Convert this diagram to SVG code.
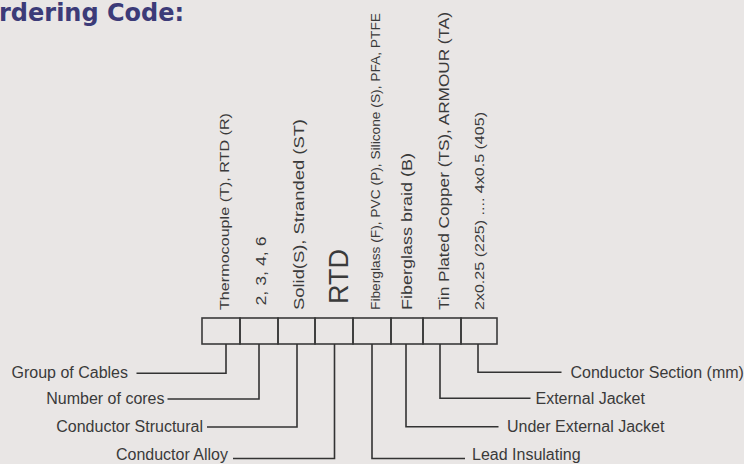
<svg xmlns="http://www.w3.org/2000/svg" width="744" height="464" viewBox="0 0 744 464">
  <style>
    .bg { fill: #e9e6e5; }
    .title { font-family: "DejaVu Sans", Verdana, sans-serif; font-weight: bold; font-size: 24px; fill: #3c3b78; }
    .lbl { font-family: "Liberation Sans", Arial, sans-serif; font-size: 16px; fill: #3a3a3a; }
    .opt { font-family: "Liberation Sans", Arial, sans-serif; fill: #3a3a3a; }
    .cell { fill: none; stroke: #3a3a3a; stroke-width: 1.6; }
    .conn { fill: none; stroke: #333333; stroke-width: 1.6; }
  </style>
  <rect class="bg" x="0" y="0" width="744" height="464"/>

  <g id="title">
    <text class="title" x="-1" y="20.5">rdering Code:</text>
  </g>

  <g id="code-boxes">
    <rect class="cell" x="202" y="318" width="38" height="26"/>
    <rect class="cell" x="240" y="318" width="38" height="26"/>
    <rect class="cell" x="278" y="318" width="37" height="26"/>
    <rect class="cell" x="315" y="318" width="38" height="26"/>
    <rect class="cell" x="353" y="318" width="38" height="26"/>
    <rect class="cell" x="391" y="318" width="32" height="26"/>
    <rect class="cell" x="423" y="318" width="38" height="26"/>
    <rect class="cell" x="461" y="318" width="36" height="26"/>
  </g>

  <g id="opt-group">
    <text class="opt" font-size="13" textLength="197" lengthAdjust="spacingAndGlyphs" transform="translate(228.5,310) rotate(-90)">Thermocouple (T), RTD (R)</text>
  </g>
  <g id="opt-cores">
    <text class="opt" font-size="15.5" textLength="69" lengthAdjust="spacingAndGlyphs" transform="translate(265.5,305.5) rotate(-90)">2, 3, 4, 6</text>
  </g>
  <g id="opt-structural">
    <text class="opt" font-size="15.5" textLength="191" lengthAdjust="spacingAndGlyphs" transform="translate(303.5,310) rotate(-90)">Solid(S), Stranded (ST)</text>
  </g>
  <g id="opt-alloy">
    <text class="opt" font-size="27" textLength="55" lengthAdjust="spacingAndGlyphs" transform="translate(347.5,304) rotate(-90)">RTD</text>
  </g>
  <g id="opt-insulating">
    <text class="opt" font-size="12.5" textLength="297" lengthAdjust="spacingAndGlyphs" transform="translate(379.5,310) rotate(-90)">Fiberglass (F), PVC (P), Silicone (S), PFA, PTFE</text>
  </g>
  <g id="opt-under-jacket">
    <text class="opt" font-size="15.5" textLength="157" lengthAdjust="spacingAndGlyphs" transform="translate(411.5,310) rotate(-90)">Fiberglass braid (B)</text>
  </g>
  <g id="opt-jacket">
    <text class="opt" font-size="15.5" textLength="298" lengthAdjust="spacingAndGlyphs" transform="translate(448.5,310) rotate(-90)">Tin Plated Copper (TS), ARMOUR (TA)</text>
  </g>
  <g id="opt-section">
    <text class="opt" font-size="13.5" textLength="198" lengthAdjust="spacingAndGlyphs" transform="translate(483.5,310) rotate(-90)">2x0.25 (225) .... 4x0.5 (405)</text>
  </g>

  <g id="connectors">
    <polyline class="conn" points="226,344 226,373.3 136.5,373.3"/>
    <polyline class="conn" points="259,344 259,399 167.5,399"/>
    <polyline class="conn" points="297,344 297,427 207,427"/>
    <polyline class="conn" points="334.5,344 334.5,458.5 233,458.5"/>
    <polyline class="conn" points="372,344 372,458.5 465,458.5"/>
    <polyline class="conn" points="406,344 406,426.7 498.5,426.7"/>
    <polyline class="conn" points="440,344 440,398.3 530.5,398.3"/>
    <polyline class="conn" points="478,344 478,372.3 561.5,372.3"/>
  </g>

  <g id="label-group">
    <text class="lbl" x="128" y="378" text-anchor="end">Group of Cables</text>
  </g>
  <g id="label-cores">
    <text class="lbl" x="164.5" y="404" text-anchor="end">Number of cores</text>
  </g>
  <g id="label-structural">
    <text class="lbl" x="203" y="432" text-anchor="end">Conductor Structural</text>
  </g>
  <g id="label-alloy">
    <text class="lbl" x="228" y="460" text-anchor="end">Conductor Alloy</text>
  </g>
  <g id="label-insulating">
    <text class="lbl" x="472" y="460">Lead Insulating</text>
  </g>
  <g id="label-under-jacket">
    <text class="lbl" x="507" y="432">Under External Jacket</text>
  </g>
  <g id="label-jacket">
    <text class="lbl" x="535.5" y="403.5">External Jacket</text>
  </g>
  <g id="label-section">
    <text class="lbl" x="570.5" y="377.5">Conductor Section (mm)</text>
  </g>
</svg>
